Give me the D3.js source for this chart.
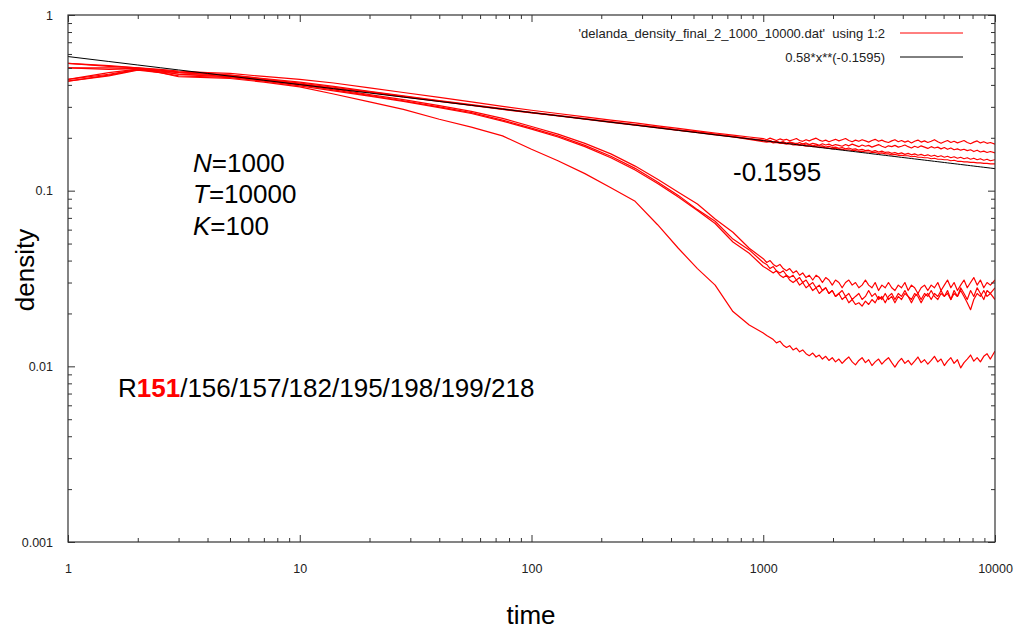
<!DOCTYPE html>
<html><head><meta charset="utf-8">
<script src="https://cdn.jsdelivr.net/npm/d3@7"></script>
<style>
body{margin:0;background:#fff}
svg{display:block}
text{font-family:"Liberation Sans", Arial, sans-serif}
</style>
</head><body>
<svg id="chart" width="1017" height="633"></svg>
<script>
// ---------------- data ----------------
const headTimes = [1, 1.5, 2, 2.5, 3, 4, 5, 7, 10, 14, 20, 28, 40, 55, 75, 100, 130, 170, 220, 280, 350, 430, 520, 620, 740, 870];
const tailTimes = [1000, 1035, 1070, 1105, 1140, 1180, 1220, 1260, 1300, 1345, 1390, 1435, 1480, 1530, 1580, 1635, 1690, 1745, 1800, 1860,
  1920, 1985, 2050, 2120, 2190, 2265, 2340, 2420, 2500, 2585, 2670, 2760, 2850, 2945, 3040, 3145, 3250, 3360, 3470, 3585,
  3700, 3825, 3950, 4085, 4220, 4360, 4500, 4650, 4800, 4965, 5130, 5305, 5480, 5665, 5850, 6045, 6240, 6450, 6660, 6885,
  7110, 7350, 7590, 7845, 8100, 8375, 8650, 8945, 9240, 9550, 10000];

const runA = [0.53, 0.515, 0.50, 0.49, 0.48, 0.47, 0.465, 0.447, 0.43, 0.41, 0.385, 0.362, 0.34, 0.32, 0.302, 0.287, 0.275, 0.263, 0.252, 0.243, 0.234, 0.226, 0.219, 0.213, 0.207, 0.202,
  0.198, 0.195, 0.199, 0.196, 0.193, 0.197, 0.194, 0.196, 0.192, 0.195,
  0.198, 0.193, 0.191, 0.195, 0.192, 0.196, 0.199, 0.194, 0.191, 0.194,
  0.19, 0.193, 0.196, 0.192, 0.195, 0.198, 0.193, 0.19, 0.194, 0.191,
  0.195, 0.192, 0.189, 0.193, 0.196, 0.191, 0.194, 0.19, 0.188, 0.192,
  0.195, 0.19, 0.193, 0.189, 0.192, 0.187, 0.191, 0.194, 0.189, 0.192,
  0.188, 0.191, 0.195, 0.19, 0.186, 0.19, 0.193, 0.188, 0.191, 0.187,
  0.19, 0.193, 0.188, 0.185, 0.189, 0.192, 0.187, 0.19, 0.186, 0.188, 0.184];
const runB = [0.50, 0.50, 0.495, 0.48, 0.47, 0.46, 0.455, 0.435, 0.415, 0.392, 0.368, 0.346, 0.326, 0.309, 0.293, 0.279, 0.268, 0.257, 0.247, 0.238, 0.23, 0.222, 0.216, 0.21, 0.204, 0.198,
  0.194, 0.191, 0.193, 0.189, 0.191, 0.188, 0.19, 0.186, 0.189, 0.187,
  0.185, 0.188, 0.184, 0.187, 0.183, 0.186, 0.184, 0.181, 0.185, 0.182,
  0.184, 0.18, 0.183, 0.181, 0.179, 0.183, 0.18, 0.184, 0.181, 0.178,
  0.182, 0.179, 0.181, 0.177, 0.18, 0.183, 0.179, 0.176, 0.18, 0.178,
  0.181, 0.177, 0.179, 0.182, 0.178, 0.175, 0.179, 0.176, 0.18, 0.177,
  0.174, 0.178, 0.175, 0.177, 0.173, 0.176, 0.172, 0.175, 0.171, 0.173,
  0.17, 0.172, 0.169, 0.171, 0.167, 0.17, 0.166, 0.168, 0.165, 0.167, 0.164];
const runC = [0.43, 0.46, 0.49, 0.485, 0.475, 0.465, 0.455, 0.432, 0.41, 0.388, 0.365, 0.344, 0.324, 0.307, 0.291, 0.278, 0.267, 0.256, 0.246, 0.237, 0.229, 0.221, 0.215, 0.209, 0.203, 0.197,
  0.193, 0.191, 0.192, 0.189, 0.19, 0.188, 0.189, 0.186, 0.188, 0.185,
  0.186, 0.183, 0.185, 0.182, 0.183, 0.18, 0.182, 0.179, 0.18, 0.177,
  0.179, 0.176, 0.177, 0.174, 0.176, 0.173, 0.175, 0.172, 0.173, 0.17,
  0.172, 0.169, 0.17, 0.167, 0.169, 0.166, 0.168, 0.165, 0.166, 0.163,
  0.165, 0.162, 0.164, 0.161, 0.163, 0.16, 0.162, 0.159, 0.161, 0.158,
  0.16, 0.157, 0.159, 0.156, 0.158, 0.155, 0.157, 0.154, 0.156, 0.153,
  0.155, 0.152, 0.154, 0.151, 0.153, 0.15, 0.152, 0.149, 0.151, 0.148, 0.15];
const runD = [0.42, 0.455, 0.488, 0.48, 0.46, 0.45, 0.445, 0.425, 0.405, 0.384, 0.362, 0.342, 0.322, 0.306, 0.29, 0.277, 0.266, 0.255, 0.245, 0.236, 0.228, 0.22, 0.214, 0.208, 0.202, 0.196,
  0.19, 0.189, 0.19, 0.187, 0.188, 0.186, 0.186, 0.184, 0.185, 0.182,
  0.183, 0.181, 0.181, 0.179, 0.18, 0.178, 0.178, 0.176, 0.177, 0.175,
  0.175, 0.173, 0.174, 0.172, 0.172, 0.17, 0.171, 0.169, 0.169, 0.167,
  0.168, 0.166, 0.166, 0.165, 0.165, 0.163, 0.164, 0.162, 0.162, 0.16,
  0.161, 0.159, 0.159, 0.158, 0.158, 0.156, 0.157, 0.155, 0.155, 0.154,
  0.154, 0.152, 0.153, 0.151, 0.151, 0.15, 0.15, 0.148, 0.149, 0.147,
  0.147, 0.146, 0.146, 0.145, 0.145, 0.144, 0.144, 0.143, 0.143, 0.142, 0.142];
const runE = [0.53, 0.51, 0.50, 0.485, 0.47, 0.46, 0.45, 0.43, 0.405, 0.38, 0.352, 0.33, 0.305, 0.283, 0.258, 0.232, 0.21, 0.186, 0.162, 0.138, 0.116, 0.098, 0.084, 0.069, 0.058, 0.047,
  0.041, 0.039, 0.04, 0.038, 0.037, 0.038, 0.036, 0.035, 0.036, 0.034,
  0.035, 0.033, 0.034, 0.032, 0.033, 0.031, 0.033, 0.032, 0.03, 0.032,
  0.031, 0.029, 0.031, 0.03, 0.028, 0.03, 0.031, 0.029, 0.03, 0.028,
  0.029, 0.031, 0.029, 0.028, 0.03, 0.027, 0.029, 0.028, 0.03, 0.028,
  0.027, 0.029, 0.028, 0.03, 0.027, 0.029, 0.028, 0.026, 0.028, 0.029,
  0.027, 0.029, 0.028, 0.03, 0.027, 0.029, 0.031, 0.028, 0.03, 0.027,
  0.029, 0.031, 0.028, 0.03, 0.032, 0.029, 0.031, 0.028, 0.03, 0.029, 0.031];
const runF = [0.50, 0.49, 0.495, 0.475, 0.46, 0.455, 0.445, 0.425, 0.40, 0.375, 0.348, 0.325, 0.30, 0.278, 0.252, 0.227, 0.205, 0.181, 0.157, 0.134, 0.112, 0.094, 0.078, 0.067, 0.053, 0.046,
  0.039, 0.038, 0.036, 0.037, 0.035, 0.034, 0.035, 0.033, 0.032, 0.033,
  0.031, 0.032, 0.03, 0.031, 0.029, 0.03, 0.028, 0.029, 0.027, 0.028,
  0.026, 0.027, 0.025, 0.026, 0.024, 0.025, 0.023, 0.024, 0.0225, 0.023,
  0.022, 0.0235, 0.0225, 0.024, 0.023, 0.025, 0.024, 0.026, 0.024, 0.025,
  0.023, 0.025, 0.024, 0.026, 0.025, 0.023, 0.025, 0.026, 0.024, 0.026,
  0.025, 0.027, 0.025, 0.024, 0.026, 0.025, 0.027, 0.024, 0.026, 0.025,
  0.027, 0.025, 0.023, 0.021, 0.024, 0.026, 0.025, 0.027, 0.025, 0.026, 0.024];
const runG = [0.43, 0.47, 0.492, 0.47, 0.45, 0.445, 0.44, 0.42, 0.395, 0.37, 0.345, 0.322, 0.297, 0.275, 0.249, 0.224, 0.202, 0.178, 0.154, 0.131, 0.11, 0.092, 0.077, 0.065, 0.051, 0.044,
  0.037, 0.036, 0.035, 0.034, 0.035, 0.033, 0.032, 0.033, 0.031, 0.03,
  0.031, 0.029, 0.03, 0.028, 0.029, 0.027, 0.028, 0.026, 0.027, 0.028,
  0.026, 0.027, 0.025, 0.026, 0.027, 0.025, 0.026, 0.024, 0.025, 0.026,
  0.024, 0.025, 0.027, 0.025, 0.026, 0.024, 0.025, 0.023, 0.025, 0.026,
  0.024, 0.026, 0.025, 0.027, 0.025, 0.024, 0.026, 0.025, 0.023, 0.025,
  0.026, 0.024, 0.026, 0.025, 0.027, 0.025, 0.026, 0.024, 0.027, 0.025,
  0.028, 0.026, 0.024, 0.027, 0.025, 0.028, 0.026, 0.024, 0.027, 0.026, 0.028];
const runH = [0.42, 0.45, 0.485, 0.47, 0.445, 0.44, 0.435, 0.415, 0.39, 0.355, 0.32, 0.29, 0.255, 0.23, 0.205, 0.172, 0.148, 0.125, 0.104, 0.087, 0.064, 0.047, 0.036, 0.029, 0.0205, 0.0172,
  0.0155, 0.015, 0.0146, 0.0142, 0.0136, 0.0139, 0.0132, 0.0128, 0.0131, 0.0124,
  0.0127, 0.0121, 0.0124, 0.0118, 0.0115, 0.0119, 0.0113, 0.0116, 0.011, 0.0114,
  0.0108, 0.0112, 0.0106, 0.011, 0.0104, 0.0109, 0.0113, 0.0106, 0.0102, 0.0108,
  0.0112, 0.0105, 0.0109, 0.0101, 0.0106, 0.011, 0.0103, 0.0108, 0.0112, 0.0105,
  0.0099, 0.0106, 0.0111, 0.0104, 0.0108, 0.0102, 0.0107, 0.0113, 0.0105, 0.0109,
  0.0103, 0.0108, 0.0114, 0.0106, 0.011, 0.0101, 0.0107, 0.0112, 0.0104, 0.0109,
  0.0098, 0.0105, 0.011, 0.0116, 0.0107, 0.0112, 0.0106, 0.0114, 0.0118, 0.011, 0.0122];
const runs = [runA, runB, runC, runD, runE, runF, runG, runH];

const fitCoef = 0.58, fitExp = -0.1595;
const xTickValues = [1, 10, 100, 1000, 10000];
const xTickLabels = ["1", "10", "100", "1000", "10000"];
const yTickValues = [0.001, 0.01, 0.1, 1];
const yTickLabels = ["0.001", "0.01", "0.1", "1"];
const legendLabels = ["'delanda_density_final_2_1000_10000.dat'  using 1:2", "0.58*x**(-0.1595)"];
const paramLines = [["N", "=1000"], ["T", "=10000"], ["K", "=100"]];
const runLabelParts = [["R", "#000", "normal"], ["151", "#ff0000", "bold"], ["/156/157/182/195/198/199/218", "#000", "normal"]];

// ---------------- layout ----------------
const times = headTimes.concat(tailTimes);
const L = 68, R = 995, T = 15, B = 542;
const svg = d3.select("#chart");
const x = d3.scaleLog().domain([1, 10000]).range([L, R]);
const y = d3.scaleLog().domain([0.001, 1]).range([B, T]);

const minorX = [], minorY = [];
[1, 10, 100, 1000].forEach(d => { for (let k = 2; k <= 9; k++) minorX.push(d * k); });
[0.001, 0.01, 0.1].forEach(d => { for (let k = 2; k <= 9; k++) minorY.push(+(d * k).toPrecision(3)); });

svg.append("defs").append("clipPath").attr("id", "clip")
  .append("rect").attr("x", L).attr("y", T).attr("width", R - L).attr("height", B - T);

// data lines
const line = d3.line().x(d => x(d[0])).y(d => y(d[1]));
const gData = svg.append("g").attr("clip-path", "url(#clip)");
runs.forEach(r => {
  gData.append("path").datum(times.map((t, i) => [t, r[i]]))
    .attr("d", line).attr("fill", "none").attr("stroke", "#ff0000").attr("stroke-width", 1.2)
    .attr("stroke-linejoin", "round");
});
gData.append("path").datum(times.map(t => [t, fitCoef * Math.pow(t, fitExp)]))
  .attr("d", line).attr("fill", "none").attr("stroke", "#000").attr("stroke-width", 1);

// axes ticks (inward, mirrored)
const tickColor = "#333";
function styleAxis(g) {
  g.select(".domain").remove();
  g.selectAll("line").attr("stroke", tickColor);
  g.selectAll("text").attr("fill", "#222").style("font-size", "12.5px").style("font-family", '"Liberation Sans", Arial, sans-serif');
}
svg.append("g").attr("transform", `translate(0,${B})`)
  .call(d3.axisBottom(x).tickValues(xTickValues).tickFormat((d, i) => xTickLabels[i]).tickSize(-7).tickSizeOuter(0).tickPadding(22))
  .call(styleAxis);
svg.append("g").attr("transform", `translate(0,${B})`)
  .call(d3.axisBottom(x).tickValues(minorX).tickFormat("").tickSize(-4).tickSizeOuter(0)).call(styleAxis);
svg.append("g").attr("transform", `translate(0,${T})`)
  .call(d3.axisTop(x).tickValues(xTickValues).tickFormat("").tickSize(-7).tickSizeOuter(0)).call(styleAxis);
svg.append("g").attr("transform", `translate(0,${T})`)
  .call(d3.axisTop(x).tickValues(minorX).tickFormat("").tickSize(-4).tickSizeOuter(0)).call(styleAxis);
svg.append("g").attr("transform", `translate(${L},0)`)
  .call(d3.axisLeft(y).tickValues(yTickValues).tickFormat((d, i) => yTickLabels[i]).tickSize(-7).tickSizeOuter(0).tickPadding(15))
  .call(styleAxis);
svg.append("g").attr("transform", `translate(${L},0)`)
  .call(d3.axisLeft(y).tickValues(minorY).tickFormat("").tickSize(-4).tickSizeOuter(0)).call(styleAxis);
svg.append("g").attr("transform", `translate(${R},0)`)
  .call(d3.axisRight(y).tickValues(yTickValues).tickFormat("").tickSize(-7).tickSizeOuter(0)).call(styleAxis);
svg.append("g").attr("transform", `translate(${R},0)`)
  .call(d3.axisRight(y).tickValues(minorY).tickFormat("").tickSize(-4).tickSizeOuter(0)).call(styleAxis);

// frame
svg.append("rect").attr("x", L).attr("y", T).attr("width", R - L).attr("height", B - T)
  .attr("fill", "none").attr("stroke", "#333").attr("stroke-width", 1.2);

// legend
const legY = [33, 57], legColors = ["#ff0000", "#000"];
legendLabels.forEach((lab, i) => {
  svg.append("text").attr("x", 885).attr("y", legY[i]).attr("dy", "0.35em").attr("text-anchor", "end")
    .attr("fill", "#222").style("font-size", "13px").style("white-space", "pre").attr("xml:space", "preserve").text(lab);
  svg.append("line").attr("x1", 900).attr("x2", 963).attr("y1", legY[i]).attr("y2", legY[i])
    .attr("stroke", legColors[i]).attr("stroke-width", 1);
});

// axis titles
svg.append("text").attr("x", 531).attr("y", 624).attr("text-anchor", "middle")
  .style("font-size", "26px").attr("fill", "#000").text("time");
svg.append("text").attr("transform", "translate(34,270) rotate(-90)").attr("text-anchor", "middle")
  .style("font-size", "26px").attr("fill", "#000").text("density");

// annotations
const paramY = [172, 203, 235];
paramLines.forEach((p, i) => {
  const t = svg.append("text").attr("x", 193).attr("y", paramY[i]).style("font-size", "26px").attr("fill", "#000");
  t.append("tspan").style("font-style", "italic").text(p[0]);
  t.append("tspan").text(p[1]);
});
const rt = svg.append("text").attr("x", 118).attr("y", 397).style("font-size", "26px");
runLabelParts.forEach(p => rt.append("tspan").attr("fill", p[1]).style("font-weight", p[2]).text(p[0]));

svg.append("text").attr("x", 733).attr("y", 181).style("font-size", "26px").attr("fill", "#000").text("-0.1595");
</script>
</body></html>
